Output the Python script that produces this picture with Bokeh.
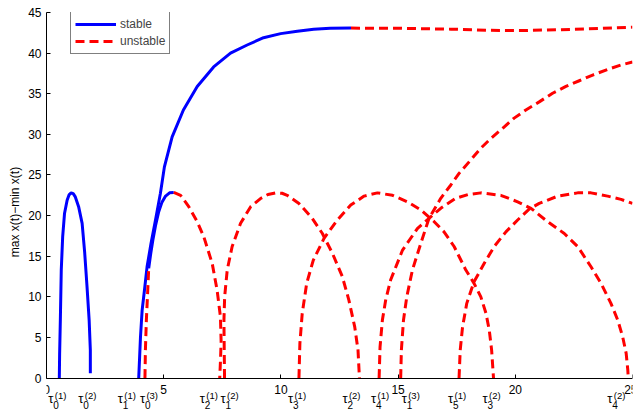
from bokeh.plotting import figure
from bokeh.models import Label, Legend, LegendItem, FixedTicker, Range1d
from bokeh.embed import file_html
from bokeh.resources import INLINE

# ---------------- data ----------------
# stable branch 1 (first small arch)
arch1_x = [0.547, 0.56, 0.59, 0.63, 0.69, 0.77, 0.88, 0.96, 1.05, 1.14, 1.23, 1.37, 1.52, 1.63, 1.73, 1.82, 1.87, 1.87]
arch1_y = [0.0, 3.0, 7.1, 13.3, 17.4, 20.3, 21.9, 22.55, 22.8, 22.7, 22.3, 21.1, 19.05, 15.4, 11.2, 7.1, 3.45, 0.6]

# big branch, stable part
big_x = [3.934, 4.01, 4.08, 4.18, 4.29, 4.46, 4.65, 4.86, 5.03, 5.36, 5.84, 6.43, 7.13, 7.85, 8.56, 9.26, 9.99, 10.70, 11.40, 12.10, 12.99]
big_y = [0.0, 5.09, 8.37, 10.84, 13.7, 16.6, 19.46, 22.75, 26.0, 29.7, 33.0, 35.9, 38.3, 40.0, 41.0, 41.9, 42.4, 42.7, 42.95, 43.05, 43.08]
# big branch, unstable continuation
top_x = [12.99, 15.11, 17.25, 18.96, 20.28, 21.95, 23.66, 25.0]
top_y = [43.08, 43.05, 42.95, 42.8, 42.78, 42.88, 43.05, 43.2]

# second arch: unstable / stable / unstable
arch2a_x = [4.20, 4.22, 4.26, 4.31, 4.36]
arch2a_y = [0.0, 3.45, 7.1, 10.2, 13.5]
arch2b_x = [4.36, 4.45, 4.55, 4.66, 4.78, 4.92, 5.08, 5.25, 5.43]
arch2b_y = [13.5, 15.4, 17.2, 18.9, 20.4, 21.6, 22.4, 22.8, 22.85]
arch2c_x = [5.43, 5.72, 6.07, 6.43, 6.71, 7.07, 7.28, 7.42, 7.45, 7.42, 7.39]
arch2c_y = [22.85, 22.5, 21.1, 19.25, 17.4, 14.1, 10.8, 7.55, 4.5, 2.0, 0.0]

# unstable arches
archA_x = [7.595, 7.58, 7.57, 7.60, 7.71, 7.92, 8.28, 8.71, 9.13, 9.45, 9.77, 10.05, 10.27, 10.77, 11.34, 11.77, 12.2, 12.62, 12.9, 13.15, 13.29, 13.35]
archA_y = [0.0, 4.06, 7.1, 10.0, 13.3, 16.2, 19.05, 21.1, 22.1, 22.6, 22.8, 22.75, 22.5, 21.5, 19.65, 17.8, 15.35, 12.5, 9.6, 6.3, 3.45, 0.0]

archB_x = [10.77, 10.81, 10.91, 11.10, 11.38, 11.84, 12.41, 12.98, 13.55, 14.12, 14.76, 15.40, 15.97, 16.54, 16.96, 17.39, 17.89, 18.24, 18.53, 18.75, 18.89, 18.99, 19.07]
archB_y = [0.0, 4.27, 7.97, 11.66, 14.5, 17.2, 19.46, 21.3, 22.4, 22.8, 22.5, 21.7, 20.7, 19.25, 18.0, 16.2, 13.3, 11.66, 10.0, 7.97, 5.9, 3.45, 0.0]

archC_x = [14.19, 14.23, 14.33, 14.47, 14.68, 15.19, 15.83, 16.32, 16.82, 17.46, 18.0, 18.53, 19.38, 20.1, 20.67, 21.38, 22.09, 22.66, 23.23, 23.66, 24.08, 24.37, 24.58, 24.73, 24.8, 24.82]
archC_y = [0.0, 3.85, 7.14, 9.6, 12.07, 15.76, 18.44, 19.67, 20.9, 22.13, 22.6, 22.8, 22.5, 21.7, 20.9, 19.25, 17.8, 16.2, 13.7, 11.66, 9.2, 7.14, 5.09, 3.04, 0.99, 0.0]

archD_x = [17.60, 17.65, 17.75, 17.93, 18.24, 18.67, 19.1, 19.6, 20.1, 20.59, 21.02, 21.81, 22.66, 23.23, 23.94, 24.51, 25.0]
archD_y = [0.0, 3.45, 6.3, 9.2, 11.86, 14.1, 16.2, 18.0, 19.46, 20.8, 21.5, 22.4, 22.8, 22.8, 22.4, 22.0, 21.5]

rise_x = [15.11, 15.14, 15.23, 15.37, 15.61, 15.97, 16.32, 16.82, 17.25, 17.60, 18.1, 18.53, 18.96, 19.46, 19.95, 20.45, 21.02, 21.59, 22.16, 22.73, 23.30, 23.94, 24.58, 25.0]
rise_y = [0.0, 3.45, 7.14, 10.0, 13.3, 16.6, 19.67, 22.13, 23.77, 25.2, 26.85, 28.3, 29.5, 30.75, 32.0, 33.0, 34.0, 35.06, 35.9, 36.6, 37.3, 38.0, 38.6, 38.9]

# bifurcation points (tau values) and their label indices
tau_vals = [0.547, 1.871, 3.934, 4.199, 7.394, 7.595, 10.77, 13.35, 14.19, 15.11, 17.60, 19.07, 24.82]
tau_sub = ["0", "0", "1", "0", "2", "1", "3", "2", "4", "1", "5", "3", "4"]
tau_sup = ["(1)", "(2)", "(1)", "(3)", "(1)", "(2)", "(1)", "(2)", "(1)", "(3)", "(1)", "(2)", "(2)"]

x_ticks = [0, 5, 10, 15, 20, 25]
y_ticks = [0, 5, 10, 15, 20, 25, 30, 35, 40, 45]

# ---------------- styles ----------------
FONT = "Liberation Sans"
BLUE = "#0000ff"
RED = "#ff0000"
LW = 3
DASH = "9 5"
# horizontal pixel shift of each tau label (left edge of the tau glyph)
tau_label_dx = [-11, -12, -21, -5, -20, -4, -11, -17, -8, 1, -11, -11, -21]

W, H = 637, 411
TOP, LEFT, RIGHT = 12, 46, 5
px_per_unit = (378 - 12.4) / 45.0
frame_h = H - TOP
y_low = 45 - frame_h / px_per_unit   # room below the axis for the tau labels

p = figure(width=W, height=H, x_range=Range1d(0, 25), y_range=Range1d(y_low, 45),
           output_backend="svg", toolbar_location=None, title=None,
           min_border_left=LEFT, min_border_right=RIGHT, min_border_top=TOP, min_border_bottom=0)
p.outline_line_color = None
p.grid.visible = False
p.background_fill_color = "white"
p.border_fill_color = "white"

p.xaxis.fixed_location = 0
p.xaxis.bounds = (0, 25)
p.yaxis.bounds = (0, 45)
p.xaxis.ticker = FixedTicker(ticks=x_ticks)
p.yaxis.ticker = FixedTicker(ticks=y_ticks)
for ax in (p.xaxis[0], p.yaxis[0]):
    ax.major_tick_in = 4
    ax.major_tick_out = 0
    ax.minor_tick_in = 0
    ax.minor_tick_out = 0
    ax.axis_line_color = "black"
    ax.major_tick_line_color = "black"
    ax.major_label_text_font = FONT
    ax.major_label_text_font_size = "12px"
    ax.major_label_text_color = "black"
p.xaxis.major_label_standoff = 7
p.yaxis.major_label_standoff = 5
p.yaxis.axis_label = "max x(t)\u2212min x(t)"
p.yaxis.axis_label_text_font = FONT
p.yaxis.axis_label_text_font_size = "12px"
p.yaxis.axis_label_text_font_style = "normal"
p.yaxis.axis_label_text_color = "black"
p.yaxis.axis_label_standoff = 3


def stable(x, y):
    return p.line(x, y, line_color=BLUE, line_width=LW)


def unstable(x, y):
    return p.line(x, y, line_color=RED, line_width=LW, line_dash=DASH)


r_st = stable(arch1_x, arch1_y)
stable(big_x, big_y)
stable(arch2b_x, arch2b_y)
r_un = unstable(top_x, top_y)
unstable(arch2a_x, arch2a_y)
unstable(arch2c_x, arch2c_y)
unstable(archA_x, archA_y)
unstable(archB_x, archB_y)
unstable(archC_x, archC_y)
unstable(archD_x, archD_y)
unstable(rise_x, rise_y)

legend = Legend(items=[LegendItem(label="stable", renderers=[r_st]),
                       LegendItem(label="unstable", renderers=[r_un])],
                location=(24, H - TOP - 54.3 + 12), padding=4, spacing=1, margin=0,
                glyph_height=16, label_height=16, glyph_width=41, label_standoff=4,
                label_text_font=FONT, label_text_font_size="12px",
                border_line_color="black", border_line_width=1,
                background_fill_color="white", background_fill_alpha=1.0)
p.add_layout(legend)

for t, sb, sp, dx in zip(tau_vals, tau_sub, tau_sup, tau_label_dx):
    p.add_layout(Label(x=t, y=0, x_units="data", y_units="data", text="\u03c4",
                       x_offset=dx, y_offset=-20, text_font=FONT, text_font_size="13px",
                       text_align="left", text_baseline="alphabetic", text_color="black"))
    p.add_layout(Label(x=t, y=0, x_units="data", y_units="data", text=sp,
                       x_offset=dx + 6.5, y_offset=-17.5, text_font=FONT, text_font_size="9.5px",
                       text_align="left", text_baseline="alphabetic", text_color="black"))
    p.add_layout(Label(x=t, y=0, x_units="data", y_units="data", text=sb,
                       x_offset=dx + 5, y_offset=-26.5, text_font=FONT, text_font_size="10px",
                       text_align="left", text_baseline="alphabetic", text_color="black"))

open("out.html", "w").write(file_html(p, INLINE))
